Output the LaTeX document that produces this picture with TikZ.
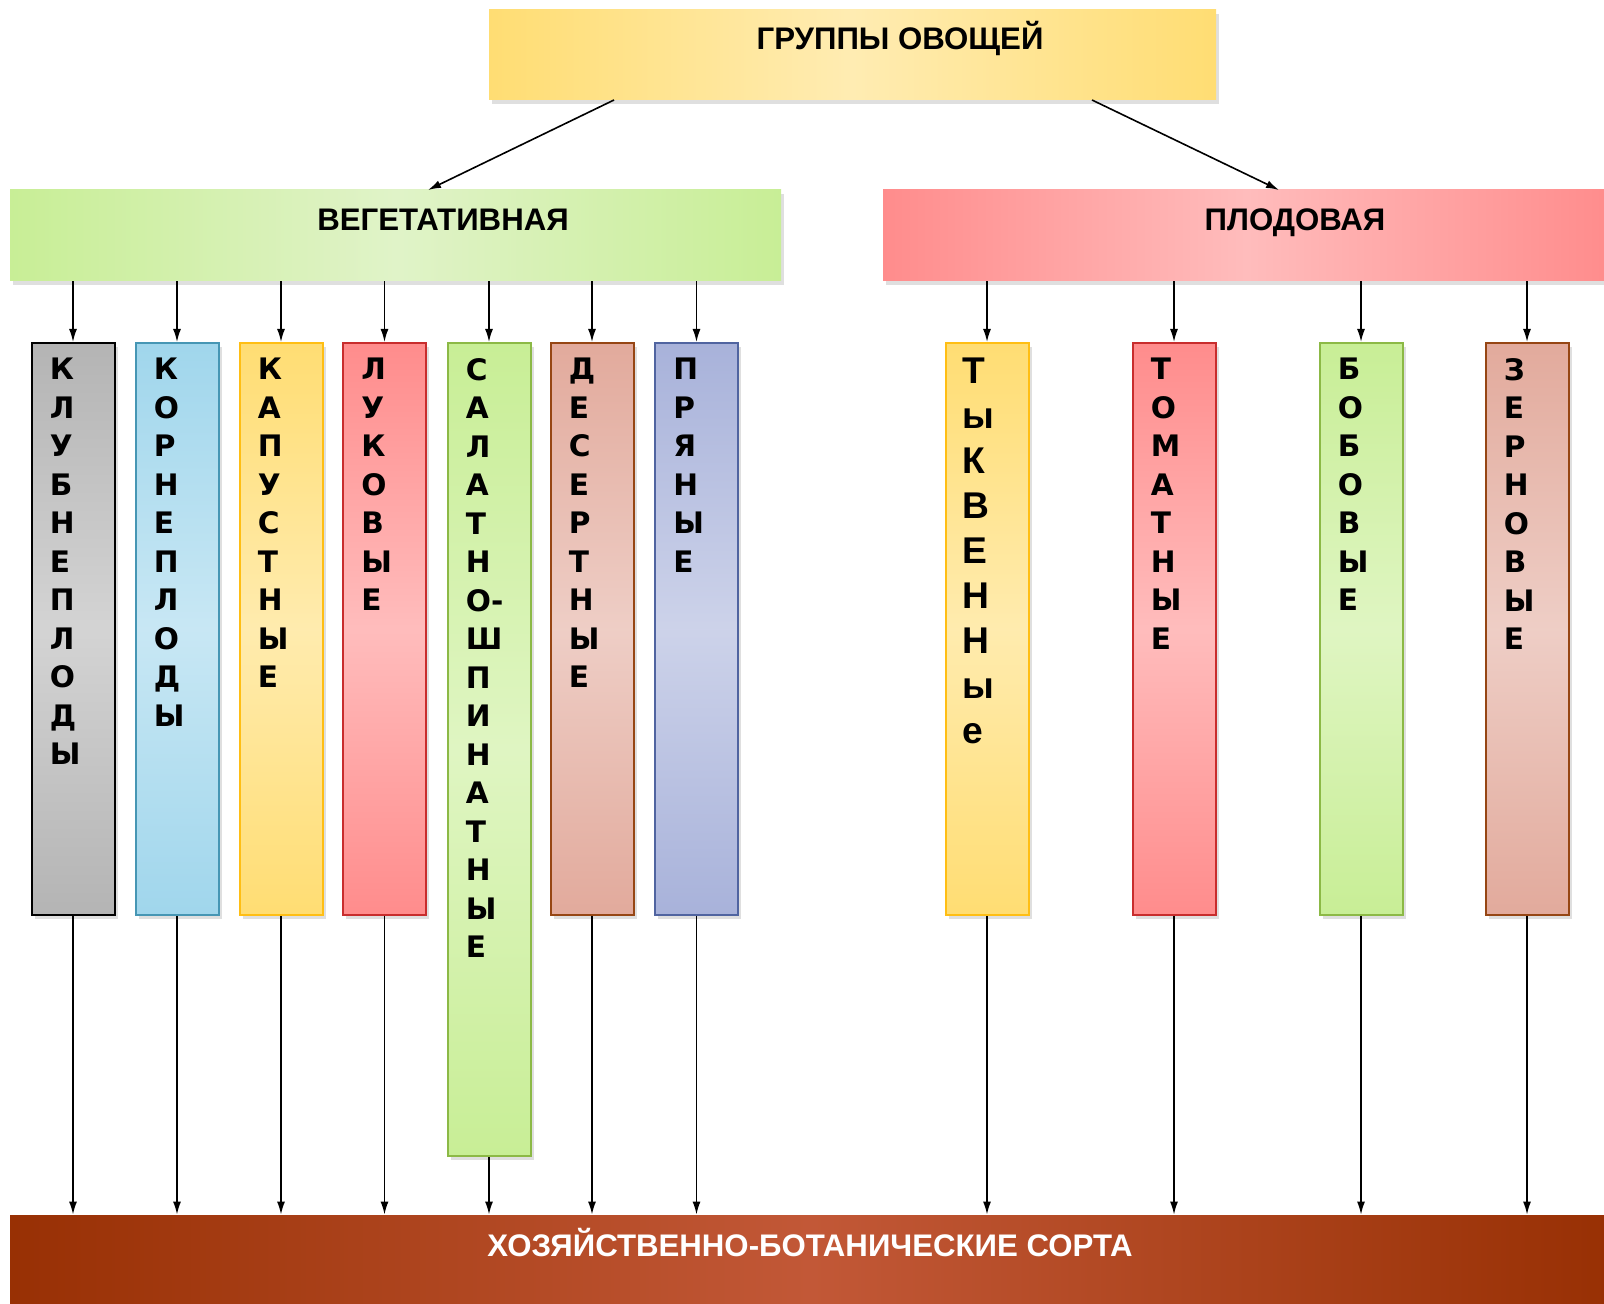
\documentclass[tikz,border=0pt]{standalone}
\usepackage{fontspec}
\setmainfont{Liberation Sans}
\newfontfamily\letterfont{DejaVu Sans}
\usetikzlibrary{positioning,arrows.meta,shadows}
\definecolor{goldedge}{RGB}{255,221,115}
\definecolor{goldmid}{RGB}{255,236,178}
\definecolor{vegedge}{RGB}{200,238,150}
\definecolor{vegmid}{RGB}{224,243,200}
\definecolor{fruitedge}{RGB}{255,140,140}
\definecolor{fruitmid}{RGB}{255,188,188}
\definecolor{sortedge}{RGB}{152,48,4}
\definecolor{sortmid}{RGB}{194,88,55}
\definecolor{grayfill}{RGB}{180,180,180}
\definecolor{bluefill}{RGB}{160,214,236}
\definecolor{bluedraw}{RGB}{70,150,180}
\definecolor{yellowfill}{RGB}{255,221,115}
\definecolor{yellowdraw}{RGB}{255,190,20}
\definecolor{redfill}{RGB}{255,140,140}
\definecolor{reddraw}{RGB}{200,45,45}
\definecolor{greenfill}{RGB}{200,238,150}
\definecolor{greendraw}{RGB}{140,185,70}
\definecolor{brownfill}{RGB}{226,170,156}
\definecolor{browndraw}{RGB}{150,70,20}
\definecolor{purplefill}{RGB}{168,178,218}
\definecolor{purpledraw}{RGB}{80,100,160}

\begin{document}
\begin{tikzpicture}[x=0.5pt,y=-0.5pt, every node/.style={inner sep=0pt},
    softshadow/.style={drop shadow={shadow xshift=1.5pt, shadow yshift=-2pt, opacity=0.25}},
    bar/.style 2 args={left color=#1, right color=#1, middle color=#2, softshadow},
    bartext/.style={anchor=base, font=\bfseries\fontsize{15.6}{18}\selectfont},
    col/.style 2 args={draw=#1, line width=1pt, top color=#2, bottom color=#2, middle color=#2!58!white,
      minimum width=41.5pt, minimum height=286pt, anchor=north, softshadow},
    coltext/.style={align=left, font=\letterfont\bfseries\fontsize{14.8}{19.25}\selectfont},
    bigtext/.style={align=left, font=\bfseries\fontsize{18.6}{22.5}\selectfont},
    arr/.style={-{Latex[length=6.5pt,width=4pt]}, line width=0.8pt, black}]
  \useasboundingbox (0,0) rectangle (1604,1304);

  % horizontal bars
  \node[bar={goldedge}{goldmid}, minimum width=363.5pt, minimum height=45pt] (groups) at (852.5,55) {};
  \node[bartext] (groupsT) at (900,50) {ГРУППЫ ОВОЩЕЙ};
  \node[bar={vegedge}{vegmid}, minimum width=385.5pt, minimum height=45.5pt] (veg) at (395.5,235.5) {};
  \node[bartext] (vegT) at (443,231) {ВЕГЕТАТИВНАЯ};
  \node[bar={fruitedge}{fruitmid}, minimum width=363.5pt, minimum height=45.5pt] (fruit) at (1246.5,235.5) {};
  \node[bartext] (fruitT) at (1295,231) {ПЛОДОВАЯ};
  \node[bar={sortedge}{sortmid}, minimum width=800pt, minimum height=47.5pt] (sorta) at (810,1262.5) {};
  \node[bartext, white] (sortaT) at (810,1256) {ХОЗЯЙСТВЕННО-БОТАНИЧЕСКИЕ СОРТА};

  % vegetative columns
  \node[col={black}{grayfill}] (klub) at (73,342) {};
  \node[col={bluedraw}{bluefill}] (korn) at (177,342) {};
  \node[col={yellowdraw}{yellowfill}] (kapu) at (281,342) {};
  \node[col={reddraw}{redfill}] (luko) at (384.5,342) {};
  \node[col={greendraw}{greenfill}, minimum height=406.5pt] (sala) at (489,342) {};
  \node[col={browndraw}{brownfill}] (dese) at (592,342) {};
  \node[col={purpledraw}{purplefill}] (prya) at (696.5,342) {};

  % fruit columns
  \node[col={yellowdraw}{yellowfill}] (tykv) at (987,342) {};
  \node[col={reddraw}{redfill}] (toma) at (1174,342) {};
  \node[col={greendraw}{greenfill}] (bobo) at (1361,342) {};
  \node[col={browndraw}{brownfill}] (zern) at (1527,342) {};

  % column labels
  \node[coltext, below right=8pt and 9.5pt of klub.north west] (klubT) {К\\Л\\У\\Б\\Н\\Е\\П\\Л\\О\\Д\\Ы};
  \node[coltext, below right=8pt and 9.5pt of korn.north west] (kornT) {К\\О\\Р\\Н\\Е\\П\\Л\\О\\Д\\Ы};
  \node[coltext, below right=8pt and 9.5pt of kapu.north west] (kapuT) {К\\А\\П\\У\\С\\Т\\Н\\Ы\\Е};
  \node[coltext, below right=8pt and 9.5pt of luko.north west] (lukoT) {Л\\У\\К\\О\\В\\Ы\\Е};
  \node[coltext, below right=8pt and 9.5pt of sala.north west] (salaT) {С\\А\\Л\\А\\Т\\Н\\О-\\Ш\\П\\И\\Н\\А\\Т\\Н\\Ы\\Е};
  \node[coltext, below right=8pt and 9.5pt of dese.north west] (deseT) {Д\\Е\\С\\Е\\Р\\Т\\Н\\Ы\\Е};
  \node[coltext, below right=8pt and 9.5pt of prya.north west] (pryaT) {П\\Р\\Я\\Н\\Ы\\Е};
  \node[bigtext, below right=8pt and 9pt of tykv.north west] (tykvT) {Т\\ы\\К\\В\\Е\\Н\\Н\\ы\\е};
  \node[coltext, below right=8pt and 9.5pt of toma.north west] (tomaT) {Т\\О\\М\\А\\Т\\Н\\Ы\\Е};
  \node[coltext, below right=8pt and 9.5pt of bobo.north west] (boboT) {Б\\О\\Б\\О\\В\\Ы\\Е};
  \node[coltext, below right=8pt and 9.5pt of zern.north west] (zernT) {З\\Е\\Р\\Н\\О\\В\\Ы\\Е};

  % connectors
  \coordinate (groupsL) at (614,100);
  \coordinate (groupsR) at (1092,100);
  \coordinate (vegIn) at (428,190);
  \coordinate (fruitIn) at (1279,190);
  \draw[arr] (groupsL) -- (vegIn);
  \draw[arr] (groupsR) -- (fruitIn);
  \foreach \c in {klub,korn,kapu,luko,sala,dese,prya}
    \draw[arr] (\c |- veg.south) -- (\c.north);
  \foreach \c in {tykv,toma,bobo,zern}
    \draw[arr] (\c |- fruit.south) -- (\c.north);
  \foreach \c in {klub,korn,kapu,luko,sala,dese,prya,tykv,toma,bobo,zern}
    \draw[arr] (\c.south) -- (\c |- sorta.north);
\end{tikzpicture}
\end{document}
